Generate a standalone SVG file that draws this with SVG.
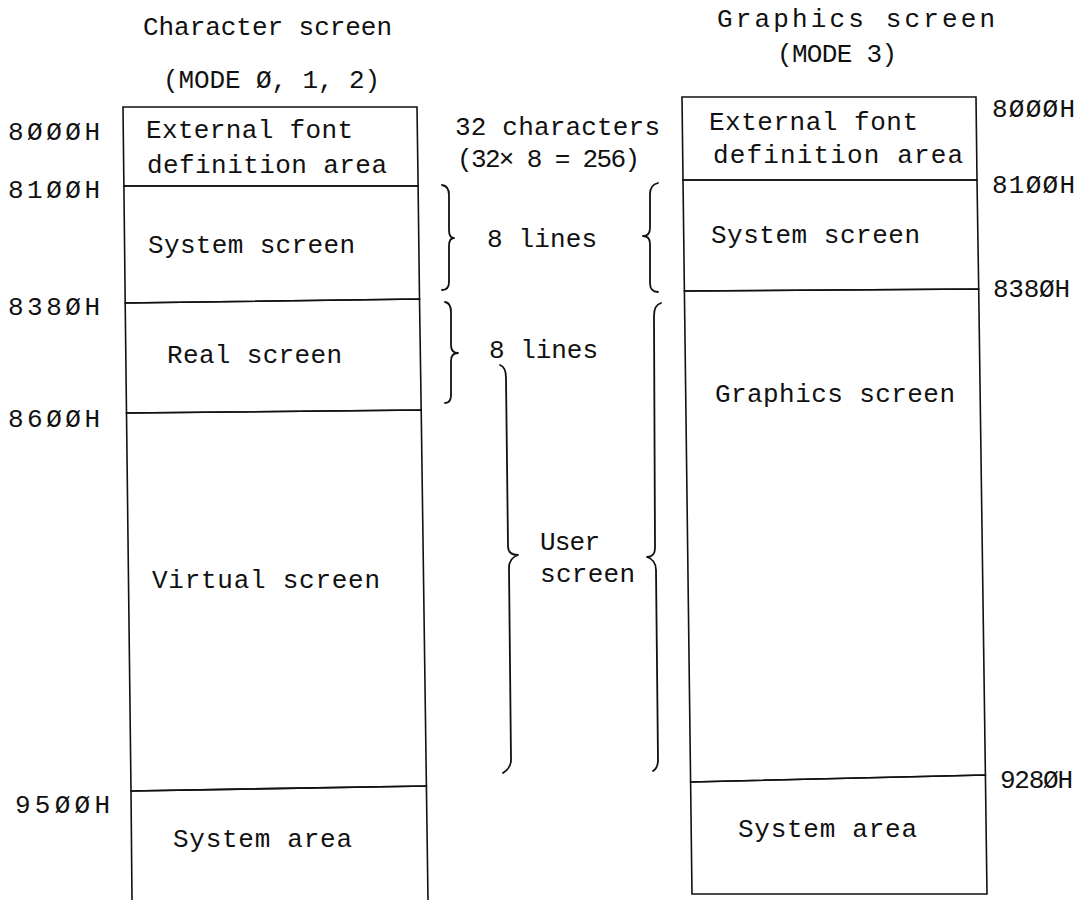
<svg xmlns="http://www.w3.org/2000/svg" width="1082" height="900" viewBox="0 0 1082 900">
<style>
text{font-family:"Liberation Mono","Courier New",monospace;font-size:26px;fill:#111}
.b{fill:none;stroke:#111;stroke-width:1.6}
.br{fill:none;stroke:#111;stroke-width:1.8;stroke-linecap:round;stroke-linejoin:round}
</style>
<rect width="1082" height="900" fill="#fff"/>
<g id="titles">
<text x="143" y="35" textLength="249">Character screen</text>
<text x="163" y="88" textLength="217">(MODE Ø, 1, 2)</text>
<text x="717" y="27" textLength="278">Graphics screen</text>
<text x="777" y="62" textLength="120">(MODE 3)</text>
</g>
<g id="addr-left">
<text x="8" y="140" textLength="92">8ØØØH</text>
<text x="8" y="198" textLength="92">81ØØH</text>
<text x="8" y="315" textLength="92">838ØH</text>
<text x="8" y="427" textLength="92">86ØØH</text>
<text x="15" y="813" textLength="95">95ØØH</text>
</g>
<g id="addr-right">
<text x="992" y="117" textLength="83">8ØØØH</text>
<text x="992" y="193" textLength="83">81ØØH</text>
<text x="993" y="297" textLength="77">838ØH</text>
<text x="1000" y="788" textLength="73">928ØH</text>
</g>
<g id="l-font">
<path class="b" d="M123,107 L417,107 L418.1,186 L123.9,186 Z"/>
<text x="146" y="138" textLength="207">External font</text>
<text x="147" y="173" textLength="240">definition area</text>
</g>
<g id="l-system">
<path class="b" d="M123.9,186 L418.1,186 L419.5,299 L125.2,303 Z"/>
<text x="148" y="253" textLength="207">System screen</text>
</g>
<g id="l-real">
<path class="b" d="M125.2,303 L419.5,299 L421.2,410 L126.5,413 Z"/>
<text x="167" y="363" textLength="175">Real screen</text>
</g>
<g id="l-virtual">
<path class="b" d="M126.5,413 L421.2,410 L426.4,786 L131,791 Z"/>
<text x="152" y="588" textLength="228">Virtual screen</text>
</g>
<g id="l-sysarea">
<path class="b" d="M132,900 L131,791 L426.4,786 L428,900"/>
<text x="173" y="847" textLength="179">System area</text>
</g>
<g id="r-font">
<path class="b" d="M682,97 L976,97 L977,180 L683,180 Z"/>
<text x="709" y="130" textLength="209">External font</text>
<text x="713" y="163" textLength="250">definition area</text>
</g>
<g id="r-system">
<path class="b" d="M683,180 L977,180 L978.7,289 L684.4,291 Z"/>
<text x="711" y="243" textLength="209">System screen</text>
</g>
<g id="r-graphics">
<path class="b" d="M684.4,291 L978.7,289 L985.4,775 L690.6,782 Z"/>
<text x="715" y="402" textLength="240">Graphics screen</text>
</g>
<g id="r-sysarea">
<path class="b" d="M690.6,782 L985.4,775 L987,894 L692,894 Z"/>
<text x="738" y="837" textLength="179">System area</text>
</g>
<g id="labels">
<text x="455" y="135" textLength="205">32 characters</text>
<text x="457" y="167" textLength="183" font-family="Liberation Sans,Arial,sans-serif">(32× 8 = 256)</text>
<text x="487" y="247" textLength="110">8 lines</text>
<text x="489" y="358" textLength="109">8 lines</text>
<text x="540" y="550" textLength="60">User</text>
<text x="540" y="582" textLength="95">screen</text>
</g>
<g id="connectors">
<path class="br" d="M442,185 Q449,186 449,195 L449,230 Q449,238 454,238 Q449,238 449,246 L449,282 Q449,290 442,290"/>
<path class="br" d="M658,183 Q650,185 650,194 L650,228 Q650,236 643,236 Q650,236 650,244 L650,283 Q650,292 658,292"/>
<path class="br" d="M445,302 Q451,303 451,312 L451,345 Q451,353 458,353 Q451,353 451,361 L451,395 Q451,403 445,403"/>
<path class="br" d="M661,303 Q654,305 654,316 L655,548 Q655,557 647,557 Q656,560 656,570 L658,760 Q658,768 653,771"/>
<path class="br" d="M500,365 Q506,367 506,378 L508,546 Q508,555 518,555 Q509,558 509,568 L511,760 Q511,768 503,773"/>
</g>
</svg>
